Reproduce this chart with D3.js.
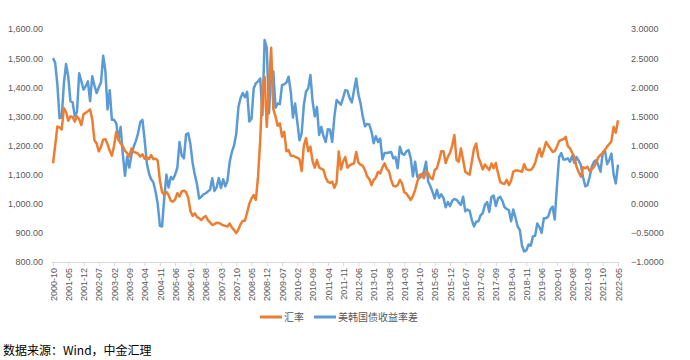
<!DOCTYPE html>
<html>
<head>
<meta charset="utf-8">
<script src="https://cdn.jsdelivr.net/npm/d3@7"></script>
<style>
  html, body { margin: 0; padding: 0; background: #fff; }
  svg { display: block; }
</style>
</head>
<body>
<div id="chart"></div>
<script>
// ---- data ----
const startYear = 2000, startMonth = 10, monthCount = 260;
const months = d3.range(monthCount).map(i => {
  const t = (startMonth - 1) + i;
  return (startYear + Math.floor(t / 12)) + "-" + String(t % 12 + 1).padStart(2, "0");
});

// USD/KRW exchange rate (left axis)
const fxRate = [
1139,1200,1265,1262,1255,1328,1315,1285,1300,1298,1282,1300,1290,1270,1308,1312,1318,1324,1290,1218,
1207,1180,1195,1220,1222,1205,1182,1165,1200,1247,1220,1207,1198,1182,1174,1162,1190,1178,1175,1172,
1162,1170,1155,1160,1153,1167,1153,1155,1148,1080,1040,1030,1040,1030,1010,1007,1015,1036,1025,1042,
1045,1040,1020,975,958,967,955,950,944,953,958,944,936,927,930,935,934,930,926,924,
922,932,918,910,899,912,930,942,942,970,1000,1018,1030,1013,1093,1220,1400,1436,1264,1400,
1536,1325,1300,1268,1276,1230,1247,1180,1184,1165,1165,1161,1158,1153,1112,1200,1225,1180,1196,1146,
1124,1150,1125,1120,1116,1090,1075,1072,1076,1055,1073,1179,1118,1145,1160,1124,1132,1136,1139,1178,
1141,1134,1130,1116,1094,1085,1064,1082,1090,1110,1104,1125,1139,1120,1112,1082,1062,1059,1064,1082,
1070,1040,1035,1024,1013,1026,1047,1076,1099,1102,1088,1110,1104,1090,1084,1116,1122,1150,1180,1180,
1140,1161,1175,1200,1236,1150,1144,1190,1150,1110,1104,1100,1145,1190,1207,1160,1140,1118,1135,1125,
1116,1138,1122,1140,1105,1075,1070,1068,1082,1064,1080,1110,1114,1114,1112,1110,1136,1118,1116,1116,
1124,1140,1168,1190,1162,1185,1212,1200,1190,1178,1180,1196,1215,1219,1222,1230,1198,1190,1175,1160,
1127,1108,1093,1125,1122,1127,1112,1118,1128,1140,1160,1168,1173,1185,1196,1205,1215,1264,1244,1287
];

// US-Korea government bond yield spread (right axis)
const yieldSpread = [
2.50,2.42,2.05,1.47,1.48,2.07,2.40,2.18,1.76,1.74,1.50,1.58,2.24,2.10,1.96,2.02,2.10,1.76,2.19,2.03,
1.90,2.00,2.08,2.54,2.28,1.62,1.95,1.44,1.44,1.38,1.10,1.32,0.85,0.48,0.81,0.62,0.85,0.98,1.08,1.21,
1.40,1.44,1.10,0.70,0.52,0.42,0.37,0.21,0.00,-0.38,-0.39,0.10,0.50,0.28,0.46,0.42,0.50,0.62,1.06,0.83,
0.78,1.19,1.21,1.02,0.70,0.50,0.34,0.09,0.12,0.16,0.18,0.21,0.24,0.44,0.22,0.28,0.44,0.27,0.42,0.30,
0.40,0.72,0.89,1.00,1.20,1.66,1.82,1.90,1.83,1.92,1.41,1.46,1.98,2.07,2.10,2.15,1.52,2.81,2.68,1.55,
2.27,2.27,1.65,1.72,1.71,2.04,2.05,2.08,2.18,1.92,1.48,1.72,1.40,1.09,1.21,1.70,1.93,1.98,2.21,1.76,
1.50,1.66,1.18,1.32,1.16,1.06,1.28,1.27,1.06,1.50,1.78,1.74,1.70,1.82,1.95,1.94,1.81,1.74,1.95,2.15,
1.88,1.72,1.50,1.33,1.37,1.36,1.24,1.04,1.16,1.06,1.12,0.76,0.87,0.87,0.88,0.89,0.78,0.80,0.61,0.98,
0.86,0.84,0.90,0.92,0.78,0.47,0.72,0.46,0.44,0.48,0.55,0.72,0.38,0.30,0.20,0.09,0.24,0.10,0.16,0.10,
-0.06,0.03,-0.04,0.05,0.08,0.07,0.02,-0.02,0.12,-0.13,-0.10,-0.12,-0.28,-0.39,-0.31,-0.30,-0.20,-0.16,-0.02,0.03,
-0.14,0.12,0.14,-0.04,0.09,0.12,0.05,-0.06,-0.09,-0.11,-0.30,-0.10,-0.24,-0.39,-0.45,-0.72,-0.82,-0.80,-0.70,-0.72,
-0.56,-0.55,-0.34,-0.40,-0.50,-0.25,-0.25,-0.22,-0.10,-0.05,-0.27,0.30,0.80,0.87,0.76,0.76,0.78,0.72,0.82,0.70,
0.80,0.74,0.66,0.45,0.30,0.32,0.46,0.64,0.72,0.75,0.66,0.55,0.88,0.92,0.68,0.75,0.86,0.50,0.35,0.67
];

const leftTicks = [800, 900, 1000, 1100, 1200, 1300, 1400, 1500, 1600];
const rightTicks = [-1, -0.5, 0, 0.5, 1, 1.5, 2, 2.5, 3];
const seriesNames = ["汇率", "美韩国债收益率差"];
const sourceText = "数据来源：Wind，中金汇理";

// ---- drawing ----
const W = 690, H = 360;
const orange = "#ED7D31", blue = "#5B9BD5", labelColor = "#595959";
const numFont = "'Liberation Sans', Arial, sans-serif";
const cjkFont = "'Noto Sans CJK SC', 'Liberation Sans', sans-serif";

const svg = d3.select("#chart").append("svg").attr("width", W).attr("height", H);
svg.append("rect").attr("width", W).attr("height", H).attr("fill", "#fff");

const x = d3.scalePoint().domain(months).range([53, 618]);
const yL = d3.scaleLinear().domain([800, 1600]).range([262, 29]);
const yR = d3.scaleLinear().domain([-1, 3]).range([262, 29]);

// left axis
const gL = svg.append("g").attr("transform", "translate(49,0)")
  .call(d3.axisLeft(yL).tickValues(leftTicks).tickSize(0).tickPadding(6)
    .tickFormat(d3.format(",.2f")));
gL.select(".domain").remove();
gL.selectAll("text").attr("fill", labelColor).style("font-family", numFont).style("font-size", "9px");

// right axis
const gR = svg.append("g").attr("transform", "translate(625,0)")
  .call(d3.axisRight(yR).tickValues(rightTicks).tickSize(0).tickPadding(6)
    .tickFormat(d3.format(".4f")));
gR.select(".domain").remove();
gR.selectAll("text").attr("fill", labelColor).style("font-family", numFont).style("font-size", "9px");

// x axis
const gX = svg.append("g").attr("transform", "translate(0,262)")
  .call(d3.axisBottom(x).tickValues(months.filter((d, i) => i % 7 === 0)).tickSize(4).tickSizeOuter(0));
gX.select(".domain").attr("stroke", "#D9D9D9").attr("d", "M52,0.5H619");
gX.selectAll(".tick line").attr("stroke", "#D9D9D9");
gX.selectAll("text")
  .attr("transform", "rotate(-90)")
  .attr("x", -6).attr("y", 0).attr("dy", "0.35em")
  .style("text-anchor", "end")
  .attr("fill", labelColor).style("font-family", numFont).style("font-size", "9px");

// lines
const lineL = d3.line().x((d, i) => x(months[i])).y(d => yL(d));
const lineR = d3.line().x((d, i) => x(months[i])).y(d => yR(d));
svg.append("path").datum(yieldSpread).attr("d", lineR)
  .attr("fill", "none").attr("stroke", blue).attr("stroke-width", 2.5).attr("stroke-linejoin", "round");
svg.append("path").datum(fxRate).attr("d", lineL)
  .attr("fill", "none").attr("stroke", orange).attr("stroke-width", 2.5).attr("stroke-linejoin", "round");

// legend
const legend = svg.append("g").attr("transform", "translate(0,317)");
const legendItems = [{ name: seriesNames[0], color: orange, x: 260 }, { name: seriesNames[1], color: blue, x: 314 }];
legendItems.forEach(it => {
  legend.append("line").attr("x1", it.x).attr("x2", it.x + 22).attr("y1", 0).attr("y2", 0)
    .attr("stroke", it.color).attr("stroke-width", 3);
  legend.append("text").attr("x", it.x + 24).attr("y", 0).attr("dy", "0.35em")
    .attr("fill", labelColor).style("font-family", cjkFont).style("font-size", "10px").text(it.name);
});

// source
svg.append("text").attr("x", 3).attr("y", 355)
  .attr("fill", "#000").style("font-family", cjkFont).style("font-size", "12px").text(sourceText);
</script>
</body>
</html>
